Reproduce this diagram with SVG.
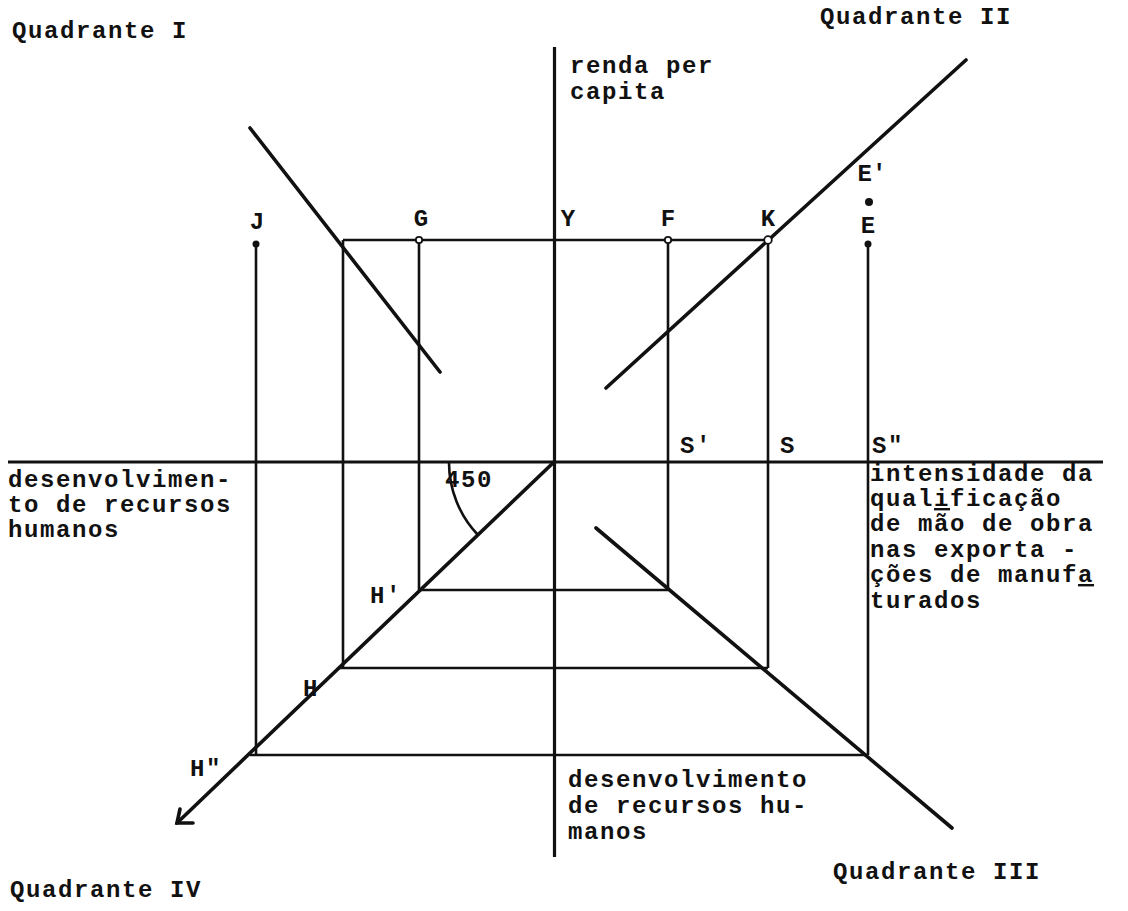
<svg xmlns="http://www.w3.org/2000/svg" width="1128" height="911" viewBox="0 0 1128 911">
<style>
  .t { font-family: "Liberation Mono", "DejaVu Sans Mono", monospace; font-size: 24px; font-weight: bold; letter-spacing: 1.6px; fill: #111; }
  .c { text-anchor: middle; letter-spacing: 0; }
  .ax { stroke: #111; stroke-width: 3.2; fill: none; }
  .ln { stroke: #111; stroke-width: 2.6; fill: none; }
  .dg { stroke: #111; stroke-width: 3.6; fill: none; stroke-linecap: round; }
</style>
<rect width="1128" height="911" fill="#ffffff"/>

<g id="axes">
  <line class="ax" x1="554.5" y1="47" x2="554.5" y2="857"/>
  <line class="ax" x1="8" y1="462" x2="1103" y2="462"/>
</g>

<g id="connectors">
  <line class="ln" x1="343" y1="240" x2="768" y2="240"/>
  <line class="ln" x1="343" y1="240" x2="343" y2="668"/>
  <line class="ln" x1="419" y1="240" x2="419" y2="590"/>
  <line class="ln" x1="668" y1="240" x2="668" y2="590"/>
  <line class="ln" x1="768" y1="240" x2="768" y2="668"/>
  <line class="ln" x1="256" y1="243" x2="256" y2="755"/>
  <line class="ln" x1="868" y1="243" x2="868" y2="755"/>
  <line class="ln" x1="418" y1="590" x2="668" y2="590"/>
  <line class="ln" x1="338" y1="668" x2="768" y2="668"/>
  <line class="ln" x1="250" y1="755" x2="868" y2="755"/>
  <line class="dg" x1="554" y1="462" x2="177" y2="823"/>
  <polyline class="dg" points="180,809 177,823 193,823"/>
  <line class="dg" x1="596" y1="528" x2="952" y2="828"/>
  <line class="dg" x1="606" y1="388" x2="966" y2="60"/>
  <line class="dg" x1="250" y1="128" x2="440" y2="372"/>
  <path class="ln" d="M 449 462 A 105 105 0 0 0 478 535"/>
</g>

<g id="points">
  <circle cx="419" cy="240" r="3.2" fill="#fff" stroke="#111" stroke-width="1.8"/>
  <circle cx="668" cy="240" r="3.2" fill="#fff" stroke="#111" stroke-width="1.8"/>
  <circle cx="768" cy="240" r="3.8" fill="#fff" stroke="#111" stroke-width="1.8"/>
  <circle cx="256" cy="244" r="3.5" fill="#111"/>
  <circle cx="868" cy="244" r="3.5" fill="#111"/>
  <circle cx="869" cy="202" r="4" fill="#111"/>
</g>

<g id="quadrant-labels">
  <text class="t" x="12" y="38">Quadrante I</text>
  <text class="t" x="820" y="24">Quadrante II</text>
  <text class="t" x="833" y="879">Quadrante III</text>
  <text class="t" x="10" y="897">Quadrante IV</text>
</g>

<g id="axis-labels">
  <text class="t" x="570" y="73">renda per</text>
  <text class="t" x="570" y="99">capita</text>
  <text class="t" x="8" y="487">desenvolvimen-</text>
  <text class="t" x="8" y="512">to de recursos</text>
  <text class="t" x="8" y="537">humanos</text>
  <text class="t" x="870" y="481">intensidade da</text>
  <text class="t" x="870" y="506">qual<tspan text-decoration="underline">i</tspan>ficação</text>
  <text class="t" x="870" y="531">de mão de obra</text>
  <text class="t" x="870" y="557">nas exporta  -</text>
  <text class="t" x="870" y="582">ções de manuf<tspan text-decoration="underline">a</tspan></text>
  <text class="t" x="870" y="608">turados</text>
  <text class="t" x="568" y="787">desenvolvimento</text>
  <text class="t" x="568" y="813">de recursos hu-</text>
  <text class="t" x="568" y="839">manos</text>
  <text class="t" x="445" y="487">450</text>
</g>

<g id="point-labels">
  <text class="t c" x="257" y="229">J</text>
  <text class="t c" x="421" y="226">G</text>
  <text class="t c" x="568" y="226">Y</text>
  <text class="t c" x="668" y="226">F</text>
  <text class="t c" x="768" y="226">K</text>
  <text class="t c" x="872" y="181">E'</text>
  <text class="t c" x="868" y="233">E</text>
  <text class="t" x="680" y="453">S'</text>
  <text class="t" x="780" y="453">S</text>
  <text class="t" x="872" y="453">S"</text>
  <text class="t" x="370" y="603">H'</text>
  <text class="t" x="303" y="696">H</text>
  <text class="t" x="190" y="776">H"</text>
</g>
</svg>
